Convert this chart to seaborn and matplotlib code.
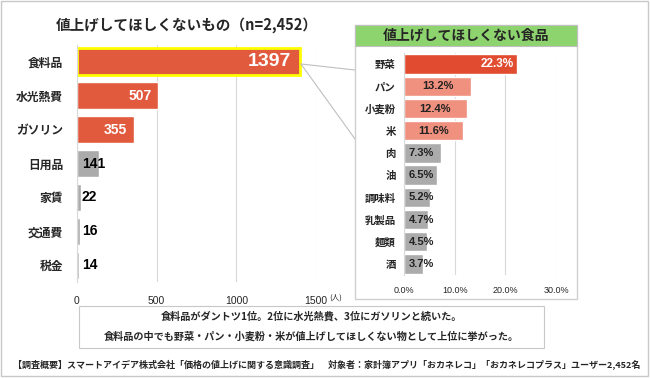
import matplotlib
matplotlib.use('Agg')
import matplotlib.pyplot as plt
import matplotlib.patches as mpatches
import matplotlib.lines as mlines
import pandas as pd
import seaborn as sns

# data
items = ['食料品', '水光熱費', 'ガソリン', '日用品', '家賃', '交通費', '税金']
counts = [1397, 507, 355, 141, 22, 16, 14]
item_colors = ['#E15A3D', '#E15A3D', '#E15A3D', '#ABABAB', '#ABABAB', '#ABABAB', '#ABABAB']
left_ticks = [0, 500, 1000, 1500]

foods = ['野菜', 'パン', '小麦粉', '米', '肉', '油', '調味料', '乳製品', '麺類', '酒']
food_pct = [22.3, 13.2, 12.4, 11.6, 7.3, 6.5, 5.2, 4.7, 4.5, 3.7]
food_colors = ['#E14B2F', '#F0907E', '#F0907E', '#F0907E', '#ABABAB', '#ABABAB',
               '#ABABAB', '#ABABAB', '#ABABAB', '#ABABAB']
right_ticks = [0, 10, 20, 30]

title_left = '値上げしてほしくないもの（n=2,452）'
title_right = '値上げしてほしくない食品'
summary = ['食料品がダントツ1位。2位に水光熱費、3位にガソリンと続いた。',
           '食料品の中でも野菜・パン・小麦粉・米が値上げしてほしくない物として上位に挙がった。']
footer = '【調査概要】スマートアイデア株式会社「価格の値上げに関する意識調査」　対象者：家計簿アプリ「おカネレコ」「おカネレコプラス」ユーザー2,452名'

W, H = 650, 379

sns.set_style('white')
plt.rcParams['font.family'] = ['Noto Sans CJK JP', 'DejaVu Sans']
plt.rcParams['font.weight'] = 'bold'


def box(x0, y0, x1, y1):
    # pixel box (top-left origin) -> figure fraction rect
    return [x0 / W, 1 - y1 / H, (x1 - x0) / W, (y1 - y0) / H]


def fx(x):
    return x / W


def fy(y):
    return 1 - y / H


fig = plt.figure(figsize=(W / 100, H / 100), dpi=100)

# outer frame
fig.patches.append(mpatches.Rectangle((fx(1), fy(376)), fx(647), 375 / H, transform=fig.transFigure,
                                      fill=False, edgecolor='#C8C8C8', lw=1))

# ---------------- left chart
df1 = pd.DataFrame({'item': items, 'count': counts})
ax1 = fig.add_axes(box(77, 45, 316, 282))
sns.barplot(data=df1, y='item', x='count', hue='item', palette=item_colors,
            legend=False, width=0.8, ax=ax1, saturation=1)
ax1.set_xlim(0, 1500)
ax1.set_ylim(len(items) - 0.5, -0.5)
ax1.set_xticks(left_ticks)
ax1.set_xticklabels([str(t) for t in left_ticks], fontsize=7.5, fontweight='normal',
                    family=['Liberation Sans'])
ax1.tick_params(axis='x', length=0, pad=10)
ax1.tick_params(axis='y', length=0, pad=10, labelsize=8.5)
ax1.set_xlabel('')
ax1.set_ylabel('')
ax1.grid(axis='x', color='#D9D9D9', lw=0.8)
ax1.set_axisbelow(True)
for s in ['top', 'right', 'bottom']:
    ax1.spines[s].set_visible(False)
ax1.spines['left'].set_color('#D9D9D9')
fig.text(fx(329), fy(297.5), '(人)', fontsize=5.5, va='center', ha='left', fontweight='normal')

# highlight the top bar
ax1.patches[0].set_edgecolor('#FFFF00')
ax1.patches[0].set_linewidth(2)

for i, v in enumerate(counts):
    if i == 0:
        ax1.text(v - 50, i, str(v), color='white', fontsize=14, ha='right', va='center',
                 family=['Liberation Sans'], fontweight='bold')
    elif i < 3:
        ax1.text(v - 40, i, str(v), color='white', fontsize=10, ha='right', va='center',
                 family=['Liberation Sans'], fontweight='bold')
    else:
        ax1.text(30, i, str(v), color='black', fontsize=10, ha='left', va='center',
                 family=['Liberation Sans'], fontweight='bold')

fig.text(fx(187), fy(25), title_left, fontsize=10.5, ha='center', va='center')

# ---------------- right panel
fig.patches.append(mpatches.Rectangle((fx(355), fy(299)), fx(222), 274 / H, transform=fig.transFigure,
                                      fill=False, edgecolor='#D0D0D0', lw=1))
fig.patches.append(mpatches.Rectangle((fx(355), fy(46)), fx(222), 21 / H, transform=fig.transFigure,
                                      facecolor='#8ED46E', edgecolor='#C0C0C0', lw=0.8))
fig.text(fx(466), fy(35.5), title_right, fontsize=10, ha='center', va='center')

df2 = pd.DataFrame({'food': foods, 'pct': food_pct})
ax2 = fig.add_axes(box(404, 53, 556, 275))
sns.barplot(data=df2, y='food', x='pct', hue='food', palette=food_colors,
            legend=False, width=0.87, ax=ax2, saturation=1)
ax2.set_xlim(0, 30)
ax2.set_ylim(len(foods) - 0.5, -0.5)
ax2.set_xticks(right_ticks)
ax2.set_xticklabels(['%.1f%%' % t for t in right_ticks], fontsize=6.5, fontweight='normal',
                    family=['Liberation Sans'])
ax2.tick_params(axis='x', length=0, pad=8)
ax2.tick_params(axis='y', length=0, pad=6, labelsize=7.5)
ax2.set_xlabel('')
ax2.set_ylabel('')
ax2.grid(axis='x', color='#D9D9D9', lw=0.8)
ax2.set_axisbelow(True)
for s in ['top', 'right', 'bottom']:
    ax2.spines[s].set_visible(False)
ax2.spines['left'].set_color('#D9D9D9')

for i, v in enumerate(food_pct):
    lab = '%.1f%%' % v
    if i == 0:
        ax2.text(v - 0.6, i, lab, color='white', fontsize=8.5, ha='right', va='center',
                 family=['Liberation Sans'], fontweight='bold')
    elif i < 4:
        ax2.text(v / 2, i, lab, color='#222222', fontsize=8, ha='center', va='center',
                 family=['Liberation Sans'], fontweight='bold')
    else:
        ax2.text(0.9, i, lab, color='#222222', fontsize=8, ha='left', va='center',
                 family=['Liberation Sans'], fontweight='bold')

# connector lines from the food bar to the panel
for y_end in [70, 139]:
    fig.lines.append(mlines.Line2D([fx(301), fx(355)], [fy(64), fy(y_end)], transform=fig.transFigure,
                                   color='#BFBFBF', lw=0.8))

# ---------------- summary and footer
fig.patches.append(mpatches.Rectangle((fx(79), fy(348)), fx(465), 42 / H, transform=fig.transFigure,
                                      fill=False, edgecolor='#C8C8C8', lw=0.8))
fig.text(fx(311), fy(316.5), summary[0], fontsize=7.3, ha='center', va='center')
fig.text(fx(311), fy(337), summary[1], fontsize=7.3, ha='center', va='center')
fig.text(fx(327), fy(364), footer, fontsize=6.5, ha='center', va='center')

fig.savefig('out.png', dpi=100)
